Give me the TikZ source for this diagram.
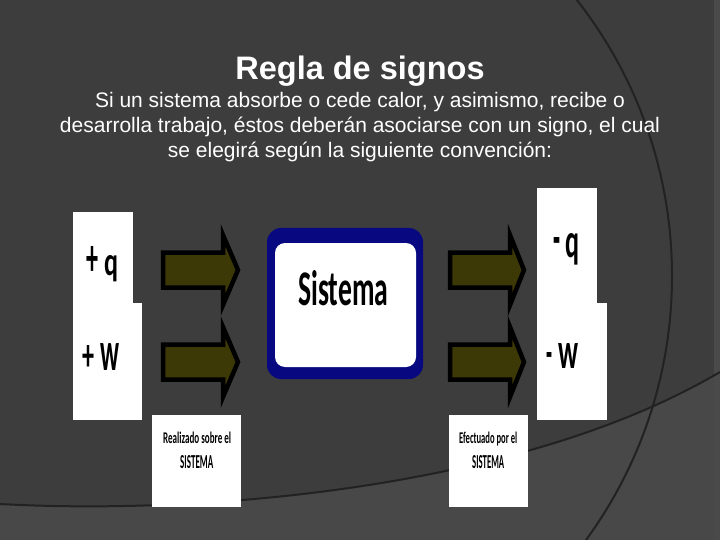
\documentclass[tikz,border=0pt]{standalone}
\usepackage{fontspec}
\usepackage{graphicx}
\setmainfont{Liberation Sans}
\newfontfamily\calfont{Carlito}
\definecolor{bgcol}{RGB}{61,61,61}
\definecolor{lowcol}{RGB}{72,72,72}
\definecolor{stripcol}{RGB}{74,74,74}
\definecolor{linecol}{RGB}{34,34,34}
\definecolor{olivefill}{RGB}{60,57,6}
\definecolor{navyblue}{RGB}{8,8,128}
\tikzset{
  titletext/.style={text=white, inner sep=0pt, font=\fontsize{32.5}{38}\selectfont\bfseries},
  bodytext/.style={text=white, inner sep=0pt, font=\fontsize{21}{25}\selectfont},
  signtext/.style={text=black, inner sep=0pt, anchor=base west, font=\calfont\bfseries},
  smalltext/.style={text=black, inner sep=0pt, anchor=base west, font=\calfont\bfseries},
  blockarrow/.style={draw=black, line width=4.5pt, fill=olivefill, line join=miter},
  arcline/.style={draw=linecol, line width=2pt},
}
\begin{document}
\begin{tikzpicture}[x=1pt,y=-1pt]
\useasboundingbox (0,0) rectangle (720,540);
\fill[bgcol] (0,0) rectangle (720,540);
\begin{scope}
  \clip (0,0) rectangle (720,540);
  \fill[lowcol] (0,504) .. controls (200,515) and (520,490) .. (720,372) -- (720,540) -- (0,540) -- cycle;
  \fill[stripcol] (714,0) rectangle (720,540);
  \draw[arcline] (0,504) .. controls (200,515) and (520,490) .. (720,372);
  \draw[arcline] (224,276) circle[radius=448pt];
\end{scope}

% title and text
\node[titletext, anchor=base] (title) at (360,80) {Regla de signos};
\node[bodytext, anchor=base] (line1) at (360,108) {Si un sistema absorbe o cede calor, y asimismo, recibe o};
\node[bodytext, anchor=base] (line2) at (360,133) {desarrolla trabajo, éstos deberán asociarse con un signo, el cual};
\node[bodytext, anchor=base] (line3) at (360,158) {se elegirá según la siguiente convención:};

% left white boxes
\fill[white] (73,212) rectangle (133,304);
\fill[white] (73,303) rectangle (142,420);
% right white boxes
\fill[white] (537,188) rectangle (597,304);
\fill[white] (537,303) rectangle (607,420);

% signs
\node[signtext] (pq) at (86,276) {\resizebox{12pt}{29pt}{+}\kern6pt\resizebox{14pt}{20pt}{q}};
\node[signtext] (pw) at (82,370) {\resizebox{12pt}{25pt}{+}\kern6pt\resizebox{19pt}{27pt}{w}};
\node[signtext] (mq) at (553,257) {\resizebox{7pt}{19pt}{-}\kern5pt\resizebox{14pt}{24pt}{q}};
\node[signtext] (mw) at (546,368) {\resizebox{6pt}{16pt}{-}\kern6pt\resizebox{20pt}{25pt}{w}};

% block arrows
\foreach \cy in {270,362}{
  \draw[blockarrow] (163,\cy-17.5) -- (223,\cy-17.5) -- (223,\cy-35) -- (238,\cy) -- (223,\cy+35) -- (223,\cy+17.5) -- (163,\cy+17.5) -- cycle;
  \draw[blockarrow] (450,\cy-17.5) -- (510,\cy-17.5) -- (510,\cy-35) -- (524,\cy) -- (510,\cy+35) -- (510,\cy+17.5) -- (450,\cy+17.5) -- cycle;
}

% Sistema box
\fill[navyblue, rounded corners=14pt] (267,228) rectangle (423,379);
\fill[white, rounded corners=10pt] (275,243) rectangle (416,367);
\node[signtext] (sis) at (298,305) {\resizebox{90pt}{35pt}{Sistema}};

% bottom boxes
\fill[white] (152,415) rectangle (241,507);
\fill[white] (449,415) rectangle (528,507);
\node[smalltext] (r1) at (163,443) {\resizebox{68pt}{11.5pt}{Realizado sobre el}};
\node[smalltext] (r2) at (180,468) {\resizebox{33pt}{13pt}{SISTEMA}};
\node[smalltext] (e1) at (459,443) {\resizebox{58pt}{11.5pt}{Efectuado por el}};
\node[smalltext] (e2) at (472,468) {\resizebox{32pt}{13pt}{SISTEMA}};
\end{tikzpicture}
\end{document}
